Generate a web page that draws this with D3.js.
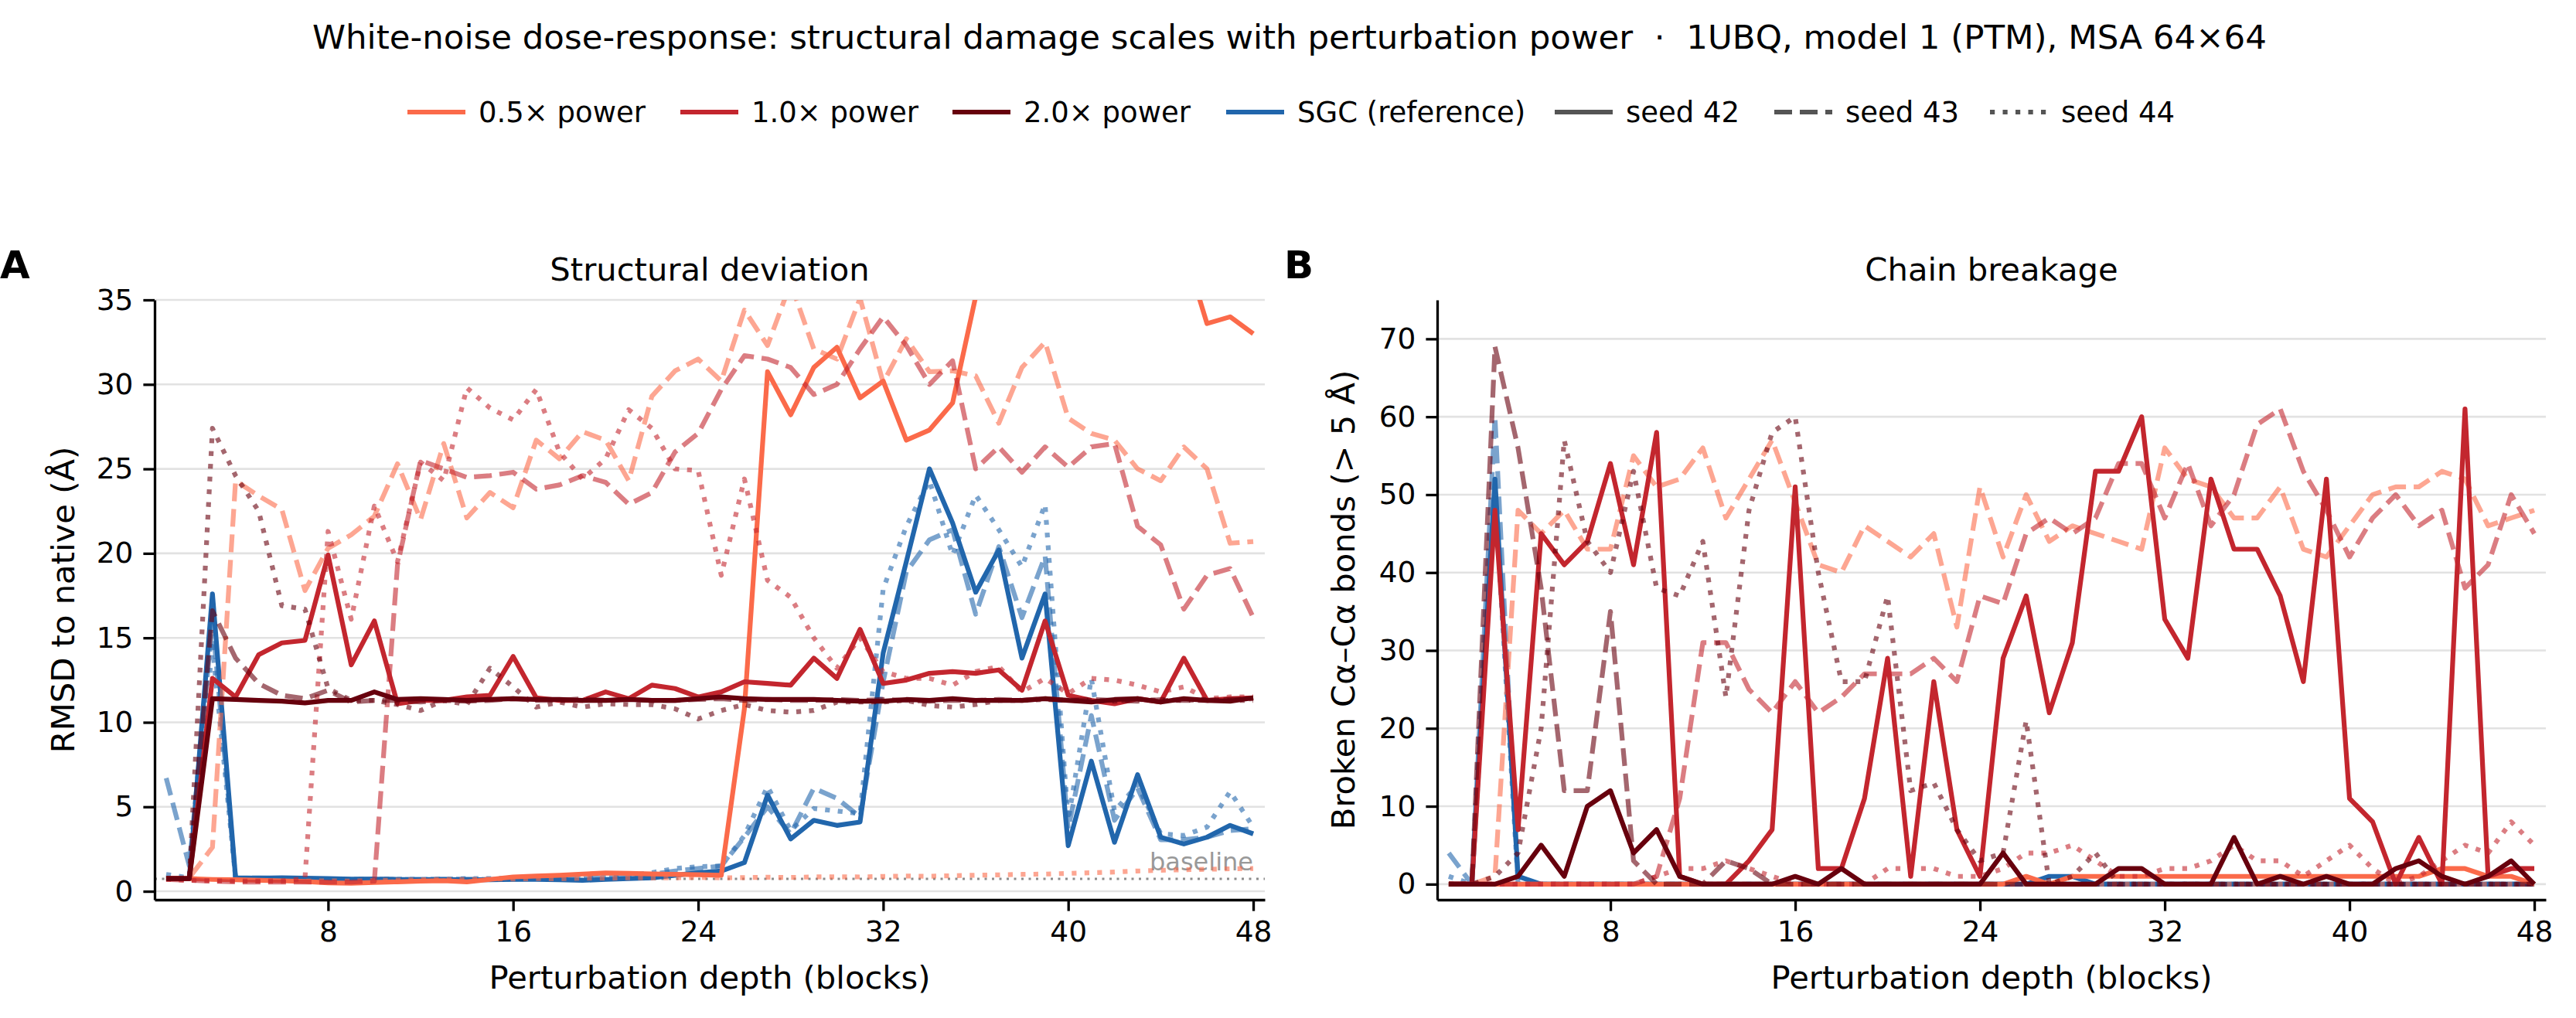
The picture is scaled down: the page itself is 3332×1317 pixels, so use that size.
<!DOCTYPE html>
<html><head><meta charset="utf-8">
<script src="https://cdn.jsdelivr.net/npm/d3@7"></script>
<style>body{margin:0;background:#fff}svg{display:block}text{font-family:"DejaVu Sans",sans-serif}</style>
</head><body><svg id="c" width="3332" height="1317"></svg>
<script>
// ---------- data ----------
const blocks=[1,2,3,4,5,6,7,8,9,10,11,12,13,14,15,16,17,18,19,20,21,22,23,24,25,26,27,28,29,30,31,32,33,34,35,36,37,38,39,40,41,42,43,44,45,46,47,48];
const conditions=["0.5× power","1.0× power","2.0× power","SGC (reference)"];
const seeds=["seed 42","seed 43","seed 44"];
const xTicks=[8,16,24,32,40,48];
const yTicksA=[0,5,10,15,20,25,30,35];
const yTicksB=[0,10,20,30,40,50,60,70];
const baselineRmsd=0.73;

// Panel A: RMSD to native (Å)
const rmsd05s42=[0.75,0.75,0.70,0.68,0.65,0.62,0.58,0.50,0.48,0.52,0.56,0.60,0.63,0.56,0.70,0.85,0.90,0.95,1.02,1.08,1.06,1.03,1.00,0.98,0.95,10.8,30.75,28.2,31.0,32.2,29.2,30.2,26.7,27.3,28.9,35.2,42.0,44.0,45.0,44.0,46.0,43.0,41.0,40.0,38.1,33.6,34.0,33.0];
const rmsd05s43=[0.75,0.8,2.6,24.3,23.4,22.6,17.8,20.3,21.1,22.2,25.3,22.0,26.5,22.1,23.6,22.7,26.7,25.6,27.2,26.7,24.3,29.3,30.8,31.5,30.2,34.4,32.3,36.0,32.1,31.5,35.1,30.1,32.7,30.75,30.8,30.5,27.7,31.0,32.5,28.0,27.1,26.7,25.0,24.3,26.3,25.0,20.6,20.7];
const rmsd05s44=[0.75,0.7,0.65,0.62,0.6,0.58,0.6,0.62,0.6,0.64,0.66,0.68,0.7,0.69,0.72,0.73,0.75,0.74,0.78,0.77,0.8,0.79,0.8,0.82,0.8,0.81,0.83,0.82,0.85,0.86,0.85,0.88,0.9,0.89,0.92,0.95,0.97,1.0,1.02,1.06,1.1,1.14,1.2,1.24,1.28,1.3,1.33,1.35];
const rmsd10s42=[0.75,0.75,12.6,11.5,14.0,14.7,14.85,19.9,13.4,16.0,11.1,11.3,11.3,11.5,11.6,13.9,11.45,11.3,11.3,11.8,11.4,12.2,12.0,11.5,11.8,12.4,12.3,12.2,13.8,12.6,15.5,12.3,12.5,12.9,13.0,12.9,13.1,11.9,16.0,11.6,11.3,11.1,11.4,11.2,13.8,11.3,11.4,11.45];
const rmsd10s43=[0.7,0.65,0.6,0.55,0.55,0.55,0.55,0.55,0.55,0.6,19.3,25.5,25.0,24.5,24.6,24.8,23.8,24.05,24.6,24.2,22.9,23.6,26.0,27.1,29.7,31.7,31.5,31.0,29.4,30.0,32.1,34.0,32.3,30.0,31.4,25.0,26.3,24.8,26.3,25.1,26.3,26.5,21.6,20.5,16.7,18.7,19.1,16.2];
const rmsd10s44=[0.7,0.65,0.62,0.6,0.6,0.62,0.75,21.3,16.1,22.8,19.5,25.4,24.3,29.8,28.6,27.9,29.7,26.0,24.4,25.6,28.5,27.4,25.0,24.9,18.7,24.4,18.4,17.4,15.0,13.2,15.0,13.0,12.6,12.6,12.2,13.0,13.3,11.8,12.6,11.7,12.6,12.5,12.2,11.8,12.1,11.4,11.5,11.5];
const rmsd20s42=[0.75,0.75,11.4,11.35,11.3,11.25,11.15,11.3,11.3,11.8,11.35,11.4,11.35,11.3,11.35,11.4,11.35,11.35,11.3,11.3,11.35,11.3,11.3,11.4,11.5,11.4,11.35,11.35,11.35,11.3,11.25,11.25,11.35,11.3,11.4,11.3,11.3,11.3,11.4,11.3,11.2,11.35,11.4,11.2,11.4,11.3,11.25,11.45];
const rmsd20s43=[0.75,0.75,16.6,13.8,12.3,11.6,11.4,11.9,11.2,11.3,11.3,11.2,11.3,11.25,11.3,11.4,11.3,11.3,11.4,11.3,11.35,11.3,11.3,11.35,11.4,11.3,11.35,11.3,11.3,11.35,11.3,11.35,11.3,11.25,11.3,11.3,11.35,11.3,11.4,11.3,11.35,11.3,11.25,11.35,11.3,11.3,11.35,11.4];
const rmsd20s44=[0.75,0.75,27.4,24.6,22.5,16.9,16.7,12.0,11.3,11.3,11.05,10.7,11.3,11.05,13.2,12.1,10.9,11.2,10.9,11.1,11.05,11.05,10.8,10.2,10.7,11.05,10.7,10.6,10.7,11.2,11.2,11.2,11.3,11.0,10.9,11.05,11.3,11.3,11.35,11.3,11.3,11.25,11.35,11.3,11.3,11.35,11.3,11.3];
const rmsdSgcS42=[0.75,0.75,17.6,0.8,0.78,0.8,0.78,0.75,0.72,0.72,0.7,0.7,0.7,0.68,0.68,0.7,0.7,0.68,0.65,0.7,0.75,0.8,0.95,1.1,1.2,1.7,5.7,3.1,4.2,3.9,4.1,14.1,19.5,25.0,21.8,17.7,20.2,13.8,17.6,2.7,7.7,2.9,6.9,3.2,2.8,3.2,3.9,3.4];
const rmsdSgcS43=[6.7,1.5,16.0,0.75,0.8,0.75,0.72,0.7,0.7,0.72,0.7,0.7,0.72,0.72,0.7,0.72,0.75,0.75,0.75,0.8,0.85,1.0,1.2,1.35,1.5,3.2,5.0,3.4,6.1,5.5,4.4,12.4,18.9,20.8,21.4,16.4,20.4,16.2,19.85,3.7,10.4,4.2,6.1,3.05,3.05,3.2,3.6,3.7];
const rmsdSgcS44=[1.0,0.8,14.5,0.78,0.75,0.75,0.72,0.72,0.7,0.72,0.72,0.7,0.72,0.75,0.75,0.78,0.78,0.8,0.8,0.85,0.95,1.1,1.35,1.45,1.5,3.3,6.2,3.6,4.9,4.75,4.6,17.9,21.6,24.3,19.9,23.45,21.4,19.2,22.9,4.2,12.6,4.75,6.3,3.4,3.3,3.8,5.9,3.8];

// Panel B: broken Cα–Cα bonds (> 5 Å)
const bonds05s42=[0,0,0,0,0,0,0,0,0,0,0,0,0,0,0,0,0,0,0,0,0,0,0,0,0,1,0,1,1,1,1,1,1,1,1,1,1,1,1,1,1,1,1,2,2,1,1,0];
const bonds05s43=[0,0,1,48,45,48,43,43,55,51,52,56,47,52,57,49,41,40,46,44,42,45,33,51,42,50,44,46,45,44,43,56,52,51,47,47,51,43,42,46,50,51,51,53,52,46,47,48];
const bonds05s44=[0,0,0,0,0,0,0,0,0,0,0,0,0,0,0,0,0,0,0,0,0,0,0,0,0,0,0,0,0,0,0,0,0,0,0,0,0,0,0,0,0,0,0,0,0,0,0,0];
const bonds10s42=[0,0,48,7,45,41,44,54,41,58,1,0,0,3,7,51,2,2,11,29,1,26,7,1,29,37,22,31,53,53,60,34,29,52,43,43,37,26,52,11,8,0,6,0,61,1,2,2];
const bonds10s43=[0,0,0,0,0,0,0,0,0,1,11,31,31,25,22,26,22,24,27,27,27,29,26,37,36,45,47,45,47,54,54,47,54,46,50,59,61,53,48,42,47,50,46,48,38,41,50,45];
const bonds10s44=[0,0,0,0,0,0,0,0,0,1,2,2,3,2,1,0,0,0,0,2,2,2,1,1,2,4,4,5,3,1,1,2,2,3,5,3,3,1,3,5,2,0,1,3,5,4,8,5];
const bonds20s42=[0,0,0,1,5,1,10,12,4,7,1,0,0,0,0,1,0,2,0,0,0,0,0,0,4,0,0,0,0,2,2,0,0,0,6,0,1,0,1,0,0,2,3,1,0,1,3,0];
const bonds20s43=[0,0,69,56,38,12,12,35,3,0,0,0,3,2,0,0,0,0,0,0,0,0,0,0,0,0,0,0,0,0,0,0,0,0,0,0,0,0,0,0,0,0,0,0,0,0,0,0];
const bonds20s44=[0,0,1,4,20,57,44,40,53,38,37,44,24,48,58,60,40,26,26,37,12,13,7,3,4,21,0,1,4,0,0,0,0,0,0,0,0,0,0,0,0,0,0,0,0,0,0,0];
const bondsSgcS42=[0,0,52,1,0,0,0,0,0,0,0,0,0,0,0,0,0,0,0,0,0,0,0,0,0,0,1,1,0,0,0,0,0,0,0,0,0,0,0,0,0,0,0,0,0,0,0,0];
const bondsSgcS43=[4,0,60,0,0,0,0,0,0,0,0,0,0,0,0,0,0,0,0,0,0,0,0,0,0,0,0,0,0,0,0,0,0,0,0,0,0,0,0,0,0,0,0,0,0,0,0,0];
const bondsSgcS44=[1,0,50,0,0,0,0,0,0,0,0,0,0,0,0,0,0,0,0,0,0,0,0,0,0,0,0,0,0,0,0,0,0,0,0,0,0,0,0,0,0,0,0,0,0,0,0,0];

// ---------- styles ----------
const condColor={"0.5× power":"#fb6a4a","1.0× power":"#c3262e","2.0× power":"#67000d","SGC (reference)":"#2166ac"};
const seedDash={"seed 42":null,"seed 43":"23,10","seed 44":"6.2,10.3"};
const seedAlpha={"seed 42":1,"seed 43":0.6,"seed 44":0.6};
const LW=6.2;

const seriesA=[
 ["SGC (reference)","seed 42",rmsdSgcS42],["SGC (reference)","seed 43",rmsdSgcS43],["SGC (reference)","seed 44",rmsdSgcS44],
 ["0.5× power","seed 42",rmsd05s42],["0.5× power","seed 43",rmsd05s43],["0.5× power","seed 44",rmsd05s44],
 ["1.0× power","seed 42",rmsd10s42],["1.0× power","seed 43",rmsd10s43],["1.0× power","seed 44",rmsd10s44],
 ["2.0× power","seed 42",rmsd20s42],["2.0× power","seed 43",rmsd20s43],["2.0× power","seed 44",rmsd20s44]];
const seriesB=[
 ["SGC (reference)","seed 42",bondsSgcS42],["SGC (reference)","seed 43",bondsSgcS43],["SGC (reference)","seed 44",bondsSgcS44],
 ["0.5× power","seed 42",bonds05s42],["0.5× power","seed 43",bonds05s43],["0.5× power","seed 44",bonds05s44],
 ["1.0× power","seed 42",bonds10s42],["1.0× power","seed 43",bonds10s43],["1.0× power","seed 44",bonds10s44],
 ["2.0× power","seed 42",bonds20s42],["2.0× power","seed 43",bonds20s43],["2.0× power","seed 44",bonds20s44]];

const svg=d3.select("#c");
const TOP=388,BOT=1164;
const xA=d3.scaleLinear().domain([0.5,48.5]).range([200,1636]);
const yA=d3.scaleLinear().domain([-0.5,35]).range([BOT,TOP]);
const xB=d3.scaleLinear().domain([0.5,48.5]).range([1859,3293]);
const yB=d3.scaleLinear().domain([-2,75]).range([BOT,TOP]);

// title
svg.append("text").attr("x",1668).attr("y",63).attr("text-anchor","middle").attr("font-size",43.5)
 .style("white-space","pre")
 .text("White-noise dose-response: structural damage scales with perturbation power  ·  1UBQ, model 1 (PTM), MSA 64×64");

// legend
const legendItems=[
 {label:"0.5× power",color:condColor["0.5× power"],dash:null,x:527},
 {label:"1.0× power",color:condColor["1.0× power"],dash:null,x:880},
 {label:"2.0× power",color:condColor["2.0× power"],dash:null,x:1232},
 {label:"SGC (reference)",color:condColor["SGC (reference)"],dash:null,x:1586},
 {label:"seed 42",color:"#555555",dash:seedDash["seed 42"],x:2011},
 {label:"seed 43",color:"#555555",dash:seedDash["seed 43"],x:2295},
 {label:"seed 44",color:"#555555",dash:seedDash["seed 44"],x:2574}];
const lg=svg.append("g");
legendItems.forEach(it=>{
 lg.append("line").attr("x1",it.x).attr("x2",it.x+75).attr("y1",145).attr("y2",145)
   .attr("stroke",it.color).attr("stroke-width",LW).attr("stroke-dasharray",it.dash);
 lg.append("text").attr("x",it.x+92).attr("y",145).attr("dy","0.36em").attr("font-size",37).text(it.label);
});

function drawPanel(o){
 const {x,y,grid,yTicks,series,id}=o;
 const g=svg.append("g");
 g.append("clipPath").attr("id",id).append("rect")
  .attr("x",x.range()[0]).attr("y",TOP).attr("width",x.range()[1]-x.range()[0]).attr("height",BOT-TOP);
 g.append("g").selectAll("line").data(grid).join("line")
  .attr("x1",x.range()[0]).attr("x2",x.range()[1]).attr("y1",d=>y(d)).attr("y2",d=>y(d))
  .attr("stroke","#e2e2e2").attr("stroke-width",2.6);
 if(o.baseline!==undefined){
  g.append("line").attr("x1",x.range()[0]).attr("x2",x.range()[1]).attr("y1",y(o.baseline)).attr("y2",y(o.baseline))
   .attr("stroke","#8c8c8c").attr("stroke-width",3).attr("stroke-dasharray","3,6.5");
  g.append("text").attr("x",x(48)).attr("y",y(o.baseline)-11).attr("text-anchor","end")
   .attr("font-size",32).attr("fill","#999999").text("baseline");
 }
 const line=d3.line().x((d,i)=>x(blocks[i])).y(d=>y(d));
 const lines=g.append("g").attr("clip-path",`url(#${id})`);
 series.forEach(([c,s,v])=>{
  lines.append("path").attr("d",line(v)).attr("fill","none")
   .attr("stroke",condColor[c]).attr("stroke-opacity",seedAlpha[s])
   .attr("stroke-width",LW).attr("stroke-dasharray",seedDash[s])
   .attr("stroke-linejoin","round").attr("stroke-linecap","butt");
 });
 const ax=g.append("g").attr("transform",`translate(0,${BOT})`)
  .call(d3.axisBottom(x).tickValues(xTicks).tickSize(14.6).tickSizeOuter(0).tickPadding(13).tickFormat(d3.format("d")));
 const ay=g.append("g").attr("transform",`translate(${x.range()[0]},0)`)
  .call(d3.axisLeft(y).tickValues(yTicks).tickSize(14.6).tickSizeOuter(0).tickPadding(13).tickFormat(d3.format("d")));
 [ax,ay].forEach(a=>{
  a.selectAll("path,line").attr("stroke","#000").attr("stroke-width",3.3);
  a.selectAll("text").attr("font-size",37.5).attr("fill","#000").attr("font-family","DejaVu Sans");
  a.attr("font-family",null);
 });
 const cx=(x.range()[0]+x.range()[1])/2;
 g.append("text").attr("x",cx).attr("y",363).attr("text-anchor","middle").attr("font-size",41.7).text(o.title);
 g.append("text").attr("x",cx).attr("y",1279).attr("text-anchor","middle").attr("font-size",41.7).text("Perturbation depth (blocks)");
 g.append("text").attr("transform",`translate(${o.ylabelX},${(TOP+BOT)/2}) rotate(-90)`).attr("text-anchor","middle")
  .attr("font-size",41.7).text(o.ylabel);
 g.append("text").attr("x",o.letterX).attr("y",360).attr("font-size",50).attr("font-weight","bold").text(o.letter);
}

drawPanel({x:xA,y:yA,grid:yTicksA,yTicks:yTicksA,series:seriesA,id:"clipA",baseline:baselineRmsd,
 title:"Structural deviation",ylabel:"RMSD to native (Å)",ylabelX:96,letter:"A",letterX:0});
drawPanel({x:xB,y:yB,grid:yTicksB,yTicks:yTicksB,series:seriesB,id:"clipB",
 title:"Chain breakage",ylabel:"Broken Cα–Cα bonds (> 5 Å)",ylabelX:1752,letter:"B",letterX:1661});
</script></body></html>
